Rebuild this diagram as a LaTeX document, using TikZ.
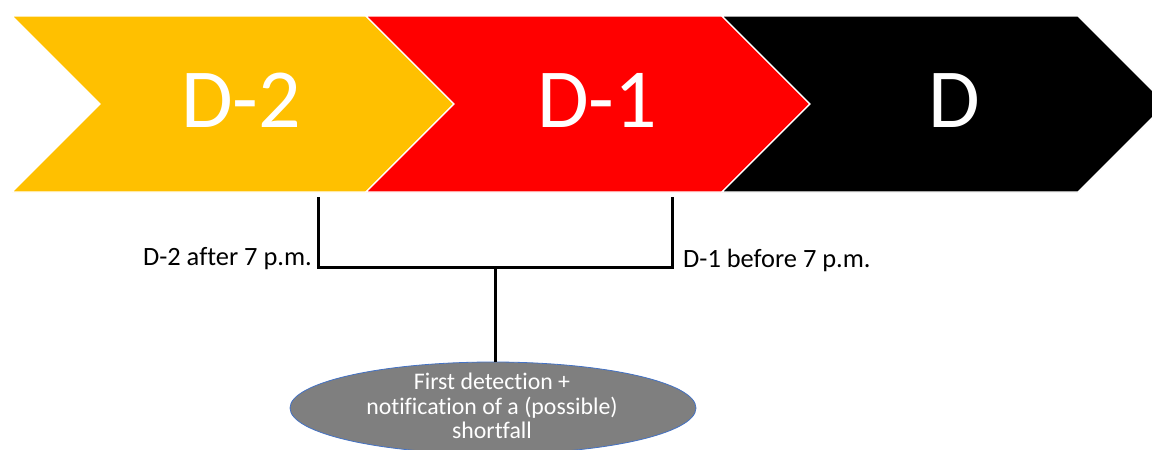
\documentclass[tikz,border=0pt]{standalone}
\usepackage{fontspec}
\setmainfont[Ligatures={NoCommon,NoContextual}]{Carlito}
\usetikzlibrary{shapes.geometric}
\definecolor{phaseA}{HTML}{FFC000}
\definecolor{phaseB}{HTML}{FF0000}
\definecolor{phaseC}{HTML}{000000}
\definecolor{noteFill}{HTML}{7F7F7F}
\definecolor{noteEdge}{HTML}{4472C4}
\tikzset{
  chevron/.style={draw=white, line width=1.3pt, line join=miter},
  phasetext/.style={text=white, font=\fontsize{84}{90}\selectfont, inner sep=0pt, anchor=base},
  bracket/.style={draw=black, line width=3pt, line join=miter},
  timelabel/.style={font=\fontsize{26.4}{30}\selectfont, inner sep=0pt},
  notebox/.style={ellipse, fill=noteFill, draw=noteEdge, line width=0.8pt,
                  minimum width=406pt, minimum height=92pt, inner sep=0pt},
  notetext/.style={text=white, align=center, inner sep=0pt,
                   font=\fontsize{23.8}{24.5}\selectfont}
}
\begin{document}
\begin{tikzpicture}[x=1pt, y=-1pt]
  \clip (0,0) rectangle (1152,450);
  \fill[white] (0,0) rectangle (1152,450);

  % three chevrons of the timeline
  \filldraw[chevron, fill=phaseA] (12,16) -- (366,16) -- (454,104) -- (366,192) -- (12,192) -- (100,104) -- cycle;
  \filldraw[chevron, fill=phaseB] (366,16) -- (722,16) -- (810,104) -- (722,192) -- (366,192) -- (454,104) -- cycle;
  \filldraw[chevron, fill=phaseC] (722,16) -- (1078,16) -- (1166,104) -- (1078,192) -- (722,192) -- (810,104) -- cycle;

  \node[phasetext] (dtwo) at (241,127) {D-2};
  \node[phasetext] (done) at (597,127) {D-1};
  \node[phasetext] (dday) at (954,127) {D};

  % bracket spanning the detection window
  \coordinate (lefttop) at (318,197);
  \coordinate (leftfoot) at (318,267);
  \coordinate (rightfoot) at (672,267);
  \coordinate (righttop) at (672,197);
  \coordinate (stem) at (495,267);

  \node[timelabel, anchor=base east] (startlbl) at (312,265) {D-2 after 7 p.m.};
  \node[timelabel, anchor=base west] (endlbl) at (683,267) {D-1 before 7 p.m.};

  \node[notebox] (note) at (493,408) {};
  \node[notetext] (notetxt) at (492,406) {First detection +\\notification of a (possible)\\shortfall};

  \draw[bracket] (lefttop) -- (leftfoot) -- (rightfoot) -- (righttop);
  \draw[bracket] (stem) -- (stem |- note.north);
\end{tikzpicture}
\end{document}
